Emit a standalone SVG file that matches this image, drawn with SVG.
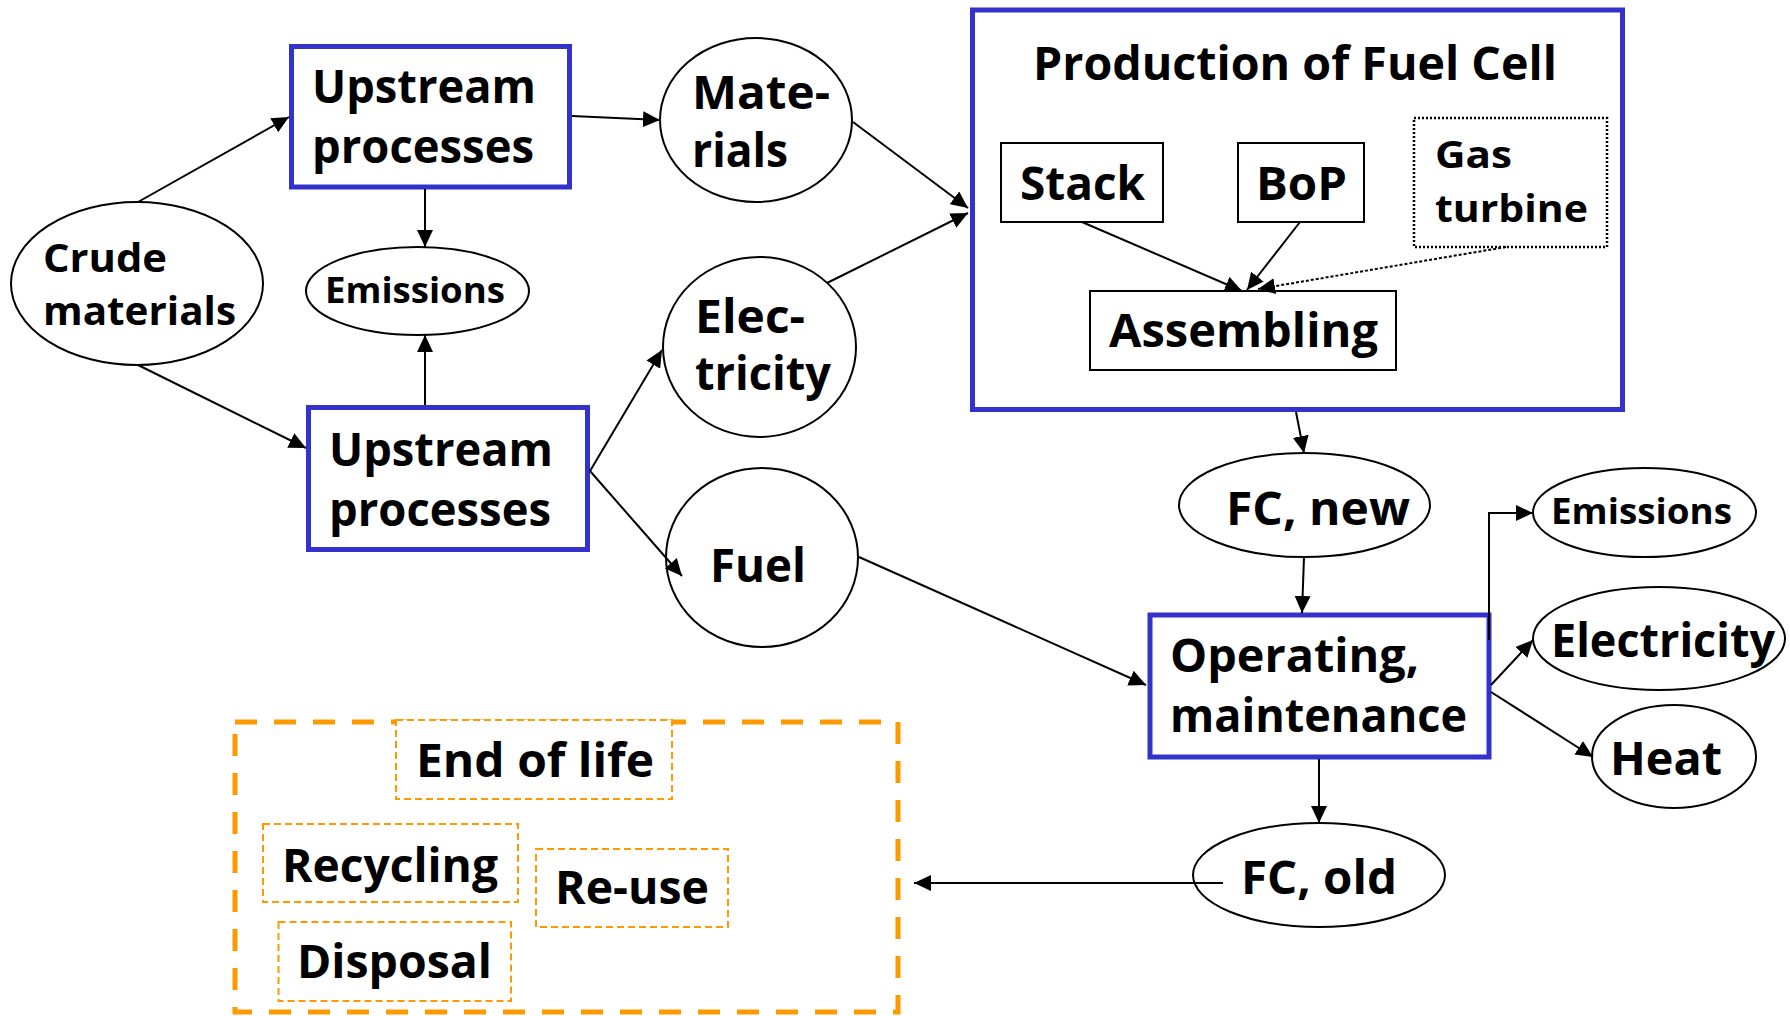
<svg xmlns="http://www.w3.org/2000/svg" width="1790" height="1016" viewBox="0 0 1790 1016">
  <style>
    text { font-family: "Open Sans", "Noto Sans", "Liberation Sans", sans-serif; font-weight: 700; fill: #000; }
    .t46 { font-size: 46px; }
    .t40 { font-size: 40px; }
    .t38 { font-size: 38px; }
    .t36 { font-size: 36px; }
    .proc { fill: #fff; stroke: #3333cc; stroke-width: 5; }
    .frame { fill: none; stroke: #3333cc; stroke-width: 5; }
    .node { fill: #fff; stroke: #000; stroke-width: 2; }
    .part { fill: #fff; stroke: #000; stroke-width: 2; }
    .dotted { fill: #fff; stroke: #000; stroke-width: 2.5; stroke-dasharray: 2 2; }
    .eol { fill: none; stroke: #ff9900; stroke-width: 5; stroke-dasharray: 22 17; }
    .eolpart { fill: #fff; stroke: #ff9900; stroke-width: 2; stroke-dasharray: 7 4; }
    .edge { fill: none; stroke: #000; stroke-width: 2; marker-end: url(#arrow); }
    .edge.dot { stroke-dasharray: 3 2; }
  </style>
  <defs>
    <marker id="arrow" markerUnits="userSpaceOnUse" markerWidth="18" markerHeight="16" refX="17" refY="8" orient="auto">
      <path d="M0,0 L17,8 L0,16 Z" fill="#000"/>
    </marker>
  </defs>
  <rect width="1790" height="1016" fill="#fff"/>

  <!-- End of life group -->
  <g id="end-of-life">
    <rect class="eol" x="235" y="722" width="663" height="290"/>
    <rect class="eolpart" x="396" y="720" width="276" height="79"/>
    <text class="t46" x="416" y="777" textLength="238" lengthAdjust="spacingAndGlyphs">End of life</text>
  </g>
  <g id="recycling">
    <rect class="eolpart" x="263" y="824" width="255" height="78"/>
    <text class="t46" x="282" y="882" textLength="216" lengthAdjust="spacingAndGlyphs">Recycling</text>
  </g>
  <g id="re-use">
    <rect class="eolpart" x="536" y="849" width="192" height="78"/>
    <text class="t46" x="555" y="904" textLength="154" lengthAdjust="spacingAndGlyphs">Re-use</text>
  </g>
  <g id="disposal">
    <rect class="eolpart" x="278.5" y="922" width="232.5" height="79"/>
    <text class="t46" x="297" y="978" textLength="195" lengthAdjust="spacingAndGlyphs">Disposal</text>
  </g>

  <g id="crude-materials">
    <ellipse class="node" cx="137" cy="283.5" rx="126" ry="81.5"/>
    <text class="t40" x="43" y="272" textLength="124" lengthAdjust="spacingAndGlyphs">Crude</text>
    <text class="t40" x="43" y="325" textLength="193" lengthAdjust="spacingAndGlyphs">materials</text>
  </g>
  <g id="upstream-1">
    <rect class="proc" x="291.5" y="46.5" width="278" height="140.5"/>
    <text class="t46" x="312" y="103" textLength="224" lengthAdjust="spacingAndGlyphs">Upstream</text>
    <text class="t46" x="312" y="163" textLength="222" lengthAdjust="spacingAndGlyphs">processes</text>
  </g>
  <g id="emissions-upstream">
    <ellipse class="node" cx="417.5" cy="291" rx="111.5" ry="44"/>
    <text class="t36" x="325" y="303" textLength="180" lengthAdjust="spacingAndGlyphs">Emissions</text>
  </g>
  <g id="upstream-2">
    <rect class="proc" x="308.5" y="407.5" width="279" height="142"/>
    <text class="t46" x="329" y="466" textLength="224" lengthAdjust="spacingAndGlyphs">Upstream</text>
    <text class="t46" x="329" y="526" textLength="222" lengthAdjust="spacingAndGlyphs">processes</text>
  </g>
  <g id="materials">
    <ellipse class="node" cx="756" cy="120" rx="96" ry="82"/>
    <text class="t46" x="692" y="109" textLength="138" lengthAdjust="spacingAndGlyphs">Mate-</text>
    <text class="t46" x="692" y="167" textLength="96" lengthAdjust="spacingAndGlyphs">rials</text>
  </g>
  <g id="electricity-in">
    <ellipse class="node" cx="759.5" cy="347" rx="96.5" ry="90"/>
    <text class="t46" x="695" y="333" textLength="110" lengthAdjust="spacingAndGlyphs">Elec-</text>
    <text class="t46" x="695" y="390" textLength="136" lengthAdjust="spacingAndGlyphs">tricity</text>
  </g>
  <g id="fuel">
    <ellipse class="node" cx="762" cy="557.5" rx="96" ry="89.5"/>
    <text class="t46" x="710" y="582" textLength="96" lengthAdjust="spacingAndGlyphs">Fuel</text>
  </g>

  <g id="production">
    <rect class="frame" x="972.5" y="10" width="650" height="399.5"/>
    <text class="t46" x="1033" y="80" textLength="524" lengthAdjust="spacingAndGlyphs">Production of Fuel Cell</text>
  </g>
  <g id="stack">
    <rect class="part" x="1001" y="143" width="162" height="79"/>
    <text class="t46" x="1020" y="200" textLength="125" lengthAdjust="spacingAndGlyphs">Stack</text>
  </g>
  <g id="bop">
    <rect class="part" x="1238" y="143" width="126" height="79"/>
    <text class="t46" x="1256" y="200" textLength="91" lengthAdjust="spacingAndGlyphs">BoP</text>
  </g>
  <g id="gas-turbine">
    <rect class="dotted" x="1414" y="118" width="193" height="129"/>
    <text class="t38" x="1435" y="168" textLength="77" lengthAdjust="spacingAndGlyphs">Gas</text>
    <text class="t38" x="1435" y="222" textLength="153" lengthAdjust="spacingAndGlyphs">turbine</text>
  </g>
  <g id="assembling">
    <rect class="part" x="1090" y="291" width="306" height="79"/>
    <text class="t46" x="1109" y="347" textLength="269" lengthAdjust="spacingAndGlyphs">Assembling</text>
  </g>

  <g id="fc-new">
    <ellipse class="node" cx="1304.5" cy="505" rx="125.5" ry="52"/>
    <text class="t46" x="1226" y="525" textLength="184" lengthAdjust="spacingAndGlyphs">FC, new</text>
  </g>
  <g id="operating">
    <rect class="proc" x="1150" y="615" width="339" height="142"/>
    <text class="t46" x="1170" y="672" textLength="249" lengthAdjust="spacingAndGlyphs">Operating,</text>
    <text class="t46" x="1170" y="732" textLength="297" lengthAdjust="spacingAndGlyphs">maintenance</text>
  </g>
  <g id="emissions-operation">
    <ellipse class="node" cx="1644.5" cy="512.5" rx="111.5" ry="44.5"/>
    <text class="t36" x="1551" y="524" textLength="181" lengthAdjust="spacingAndGlyphs">Emissions</text>
  </g>
  <g id="electricity-out">
    <ellipse class="node" cx="1659" cy="638.5" rx="126" ry="51.5"/>
    <text class="t46" x="1551" y="657" textLength="224" lengthAdjust="spacingAndGlyphs">Electricity</text>
  </g>
  <g id="heat">
    <ellipse class="node" cx="1674" cy="756.5" rx="82" ry="51.5"/>
    <text class="t46" x="1610" y="775" textLength="112" lengthAdjust="spacingAndGlyphs">Heat</text>
  </g>
  <g id="fc-old">
    <ellipse class="node" cx="1319" cy="875" rx="126" ry="52"/>
    <text class="t46" x="1241" y="894" textLength="156" lengthAdjust="spacingAndGlyphs">FC, old</text>
  </g>

  <!-- Connectors, drawn above the nodes -->
  <g id="connectors">
    <line class="edge" x1="138" y1="202" x2="289" y2="117"/>
    <line class="edge" x1="138" y1="365" x2="306" y2="448"/>
    <line class="edge" x1="425" y1="189" x2="425" y2="247"/>
    <line class="edge" x1="425" y1="405" x2="425" y2="335"/>
    <line class="edge" x1="572" y1="116" x2="660" y2="120"/>
    <line class="edge" x1="590" y1="471" x2="662" y2="350"/>
    <line class="edge" x1="590" y1="471" x2="682" y2="576"/>
    <line class="edge" x1="853" y1="122" x2="968" y2="208"/>
    <line class="edge" x1="827" y1="283" x2="968" y2="213"/>
    <line class="edge" x1="1082" y1="222" x2="1242" y2="291"/>
    <line class="edge" x1="1300" y1="222" x2="1247" y2="290"/>
    <line class="edge dot" x1="1506" y1="247" x2="1258" y2="289"/>
    <line class="edge" x1="1296" y1="412" x2="1304" y2="453"/>
    <line class="edge" x1="1304" y1="557" x2="1302" y2="613"/>
    <line class="edge" x1="859" y1="557" x2="1146" y2="685"/>
    <polyline class="edge" points="1489,640 1489,513 1533,513"/>
    <line class="edge" x1="1491" y1="685" x2="1533" y2="640"/>
    <line class="edge" x1="1491" y1="692" x2="1593" y2="757"/>
    <line class="edge" x1="1319" y1="759" x2="1319" y2="823"/>
    <line class="edge" x1="1223" y1="883" x2="914" y2="883"/>
  </g>
</svg>
